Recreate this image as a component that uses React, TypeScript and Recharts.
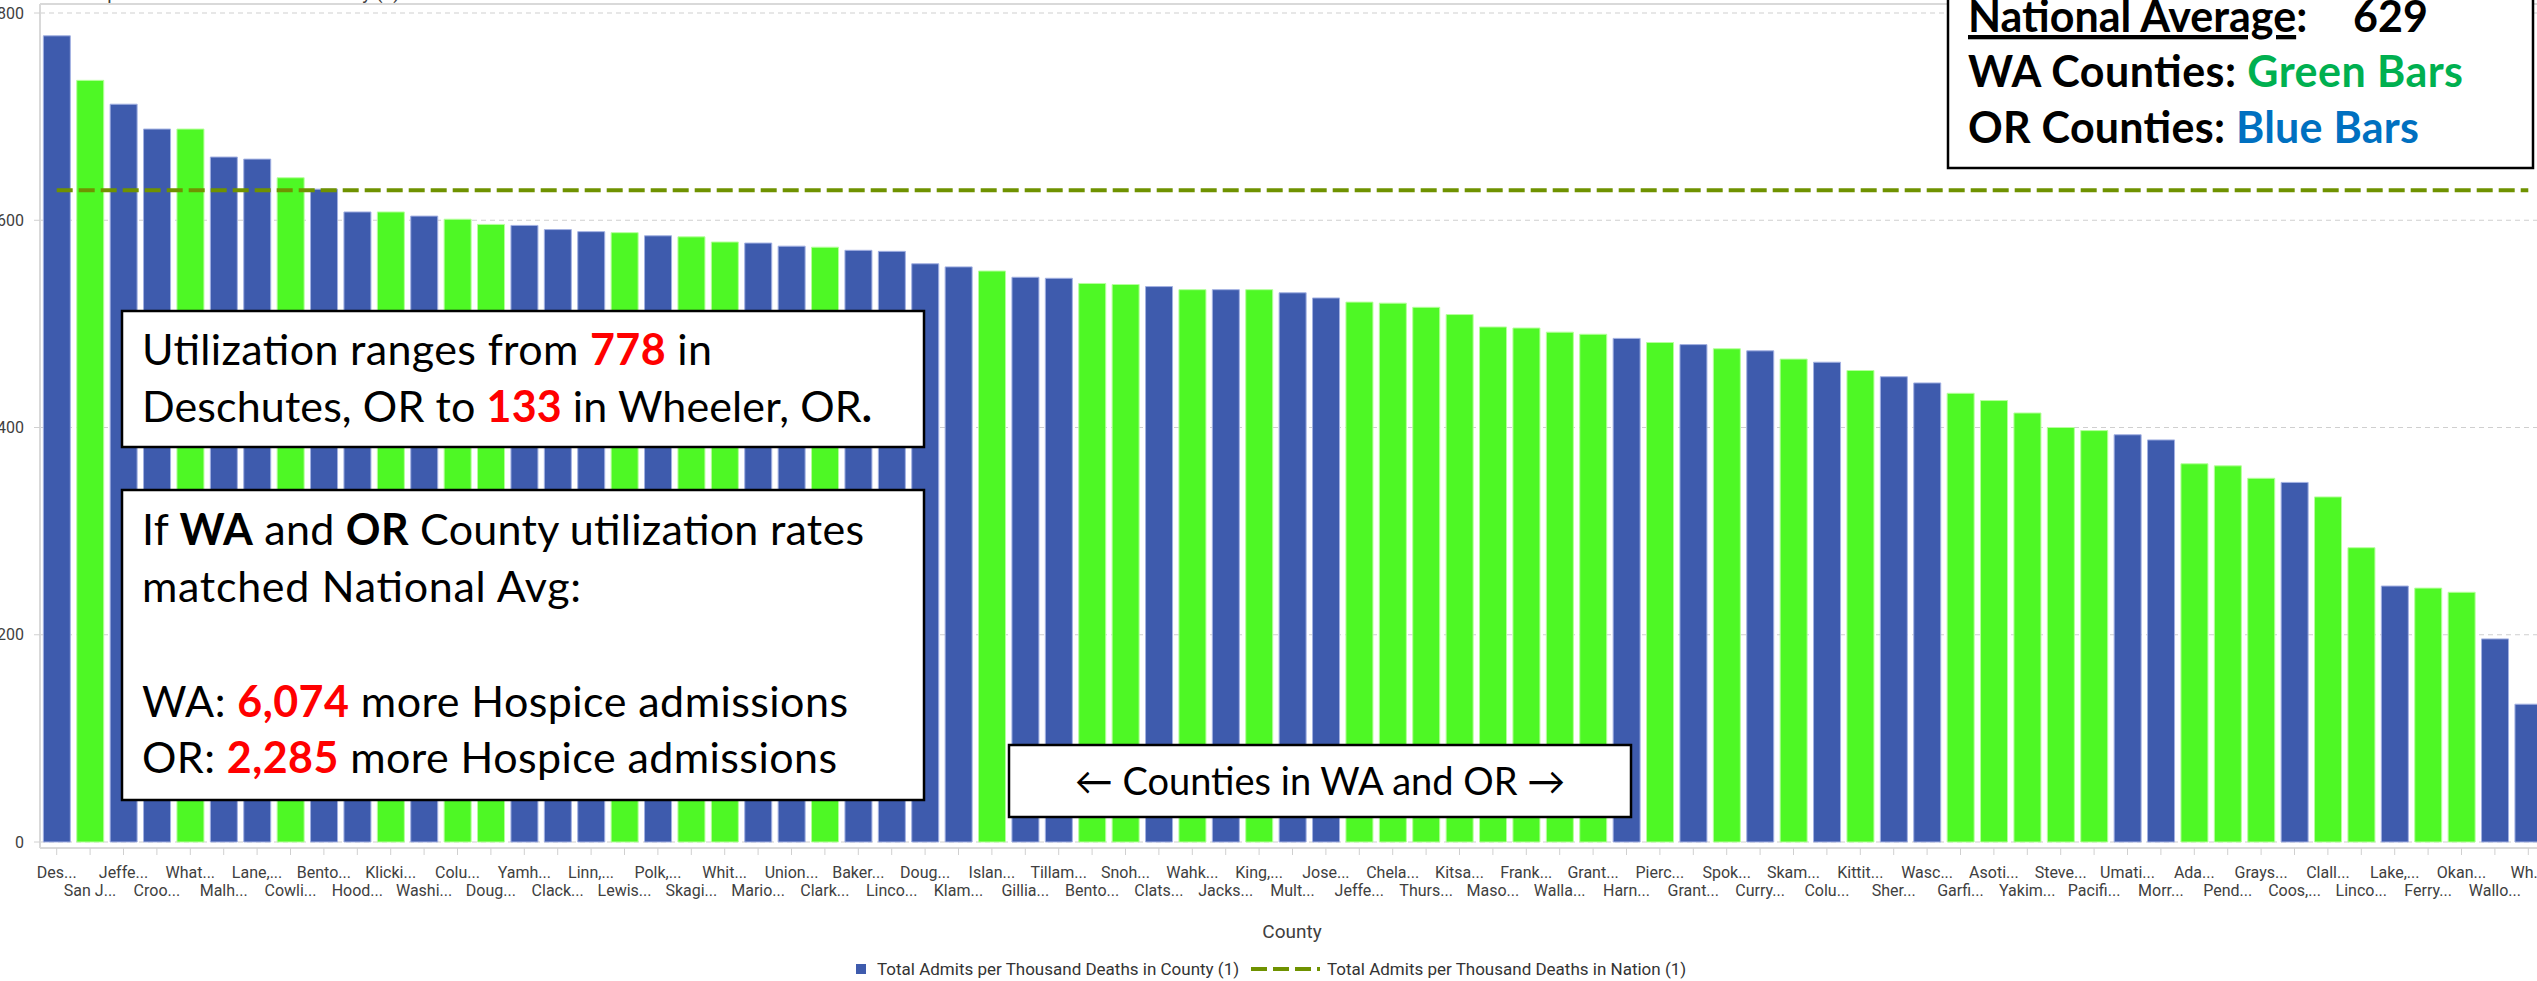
import { ComposedChart, Bar, Line, Cell, XAxis, YAxis, CartesianGrid } from "recharts";

// county order as sorted in the reference (highest to lowest)
const counties = [
  "Deschutes, OR", "San Juan, WA", "Jefferson, OR", "Crook, OR", "Whatcom, WA",
  "Malheur, OR", "Lane, OR", "Cowlitz, WA", "Benton, OR", "Hood River, OR",
  "Klickitat, WA", "Washington, OR", "Columbia, WA", "Douglas, WA", "Yamhill, OR",
  "Clackamas, OR", "Linn, OR", "Lewis, WA", "Polk, OR", "Skagit, WA",
  "Whitman, WA", "Marion, OR", "Union, OR", "Clark, WA", "Baker, OR",
  "Lincoln, OR", "Douglas, OR", "Klamath, OR", "Island, WA", "Gilliam, OR",
  "Tillamook, OR", "Benton, WA", "Snohomish, WA", "Clatsop, OR", "Wahkiakum, WA",
  "Jackson, OR", "King, WA", "Multnomah, OR", "Josephine, OR", "Jefferson, WA",
  "Chelan, WA", "Thurston, WA", "Kitsap, WA", "Mason, WA", "Franklin, WA",
  "Walla Walla, WA", "Grant, WA", "Harney, OR", "Pierce, WA", "Grant, OR",
  "Spokane, WA", "Curry, OR", "Skamania, WA", "Columbia, OR", "Kittitas, WA",
  "Sherman, OR", "Wasco, OR", "Garfield, WA", "Asotin, WA", "Yakima, WA",
  "Stevens, WA", "Pacific, WA", "Umatilla, OR", "Morrow, OR", "Adams, WA",
  "Pend Oreille, WA", "Grays Harbor, WA", "Coos, OR", "Clallam, WA", "Lincoln, WA",
  "Lake, OR", "Ferry, WA", "Okanogan, WA", "Wallowa, OR", "Wheeler, OR",
];

// truncated tick text as it shows under the bars
const tickLabels = [
  "Des...", "San J...", "Jeffe...", "Croo...", "What...",
  "Malh...", "Lane,...", "Cowli...", "Bento...", "Hood...",
  "Klicki...", "Washi...", "Colu...", "Doug...", "Yamh...",
  "Clack...", "Linn,...", "Lewis...", "Polk,...", "Skagi...",
  "Whit...", "Mario...", "Union...", "Clark...", "Baker...",
  "Linco...", "Doug...", "Klam...", "Islan...", "Gillia...",
  "Tillam...", "Bento...", "Snoh...", "Clats...", "Wahk...",
  "Jacks...", "King,...", "Mult...", "Jose...", "Jeffe...",
  "Chela...", "Thurs...", "Kitsa...", "Maso...", "Frank...",
  "Walla...", "Grant...", "Harn...", "Pierc...", "Grant...",
  "Spok...", "Curry...", "Skam...", "Colu...", "Kittit...",
  "Sher...", "Wasc...", "Garfi...", "Asoti...", "Yakim...",
  "Steve...", "Pacifi...", "Umati...", "Morr...", "Ada...",
  "Pend...", "Grays...", "Coos,...", "Clall...", "Linco...",
  "Lake,...", "Ferry...", "Okan...", "Wallo...", "Wh...",
];

const states = [
  "OR", "WA", "OR", "OR", "WA",
  "OR", "OR", "WA", "OR", "OR",
  "WA", "OR", "WA", "WA", "OR",
  "OR", "OR", "WA", "OR", "WA",
  "WA", "OR", "OR", "WA", "OR",
  "OR", "OR", "OR", "WA", "OR",
  "OR", "WA", "WA", "OR", "WA",
  "OR", "WA", "OR", "OR", "WA",
  "WA", "WA", "WA", "WA", "WA",
  "WA", "WA", "OR", "WA", "OR",
  "WA", "OR", "WA", "OR", "WA",
  "OR", "OR", "WA", "WA", "WA",
  "WA", "WA", "OR", "OR", "WA",
  "WA", "WA", "OR", "WA", "WA",
  "OR", "WA", "WA", "OR", "OR",
];

// Total admits per thousand deaths in county (1)
const countyAdmits = [
  778, 735, 712, 688, 688,
  661, 659, 641, 630, 608,
  608, 604, 601, 596, 595,
  591, 589, 588, 585, 584,
  579, 578, 575, 574, 571,
  570, 558, 555, 551, 545,
  544, 539, 538, 536, 533,
  533, 533, 530, 525, 521,
  520, 516, 509, 497, 496,
  492, 490, 486, 482, 480,
  476, 474, 466, 463, 455,
  449, 443, 433, 426, 414,
  400, 397, 393, 388, 365,
  363, 351, 347, 333, 284,
  247, 245, 241, 196, 133,
];

const nationalAverage = 629;
const yTicks = [0, 200, 400, 600, 800];

const BAR_FILL: Record<string, string> = { OR: "#3e5bad", WA: "#4ef825" };
const BAR_EDGE: Record<string, string> = { OR: "#a3b1e2", WA: "#b6ff9c" };
const AVG_COLOR = "#6f9200";
const AXIS_FONT = "Roboto, 'Noto Sans', sans-serif";
const BOX_FONT = "Lato, 'Open Sans', sans-serif";

const data = counties.map((name, i) => ({
  name,
  county: countyAdmits[i],
  nation: nationalAverage,
}));

const XTick = (props: any) => {
  const { x, y, index } = props;
  const dy = index % 2 === 0 ? 21 : 39;
  return (
    <text x={x} y={y + dy} textAnchor="middle" fontSize={16} fill="#404040" fontFamily={AXIS_FONT}>
      {tickLabels[index]}
    </text>
  );
};

const red = "#ff0000";

export default function App() {
  return (
    <div
      style={{
        position: "fixed",
        left: 0,
        top: 0,
        width: 2537,
        height: 981,
        overflow: "hidden",
        background: "#fff",
      }}
    >
      <ComposedChart
        width={2560}
        height={981}
        data={data}
        margin={{ top: 4, right: 15, bottom: 73, left: 0 }}
        barCategoryGap="10%"
      >
        <CartesianGrid vertical={false} stroke="#cfcfcf" strokeDasharray="5 4" />
        <XAxis
          dataKey="name"
          interval={0}
          height={60}
          tick={<XTick />}
          tickSize={7}
          tickMargin={2}
          axisLine={{ stroke: "#d9d9d9", strokeWidth: 2 }}
          tickLine={{ stroke: "#d0d0d0" }}
        />
        <YAxis
          width={40}
          domain={[0, 800]}
          ticks={yTicks}
          padding={{ top: 9, bottom: 6 }}
          tick={{ fontSize: 16, fill: "#404040", fontFamily: AXIS_FONT }}
          tickSize={6}
          tickMargin={10}
          axisLine={{ stroke: "#d9d9d9", strokeWidth: 2 }}
          tickLine={{ stroke: "#d0d0d0" }}
        />
        <Bar dataKey="county" isAnimationActive={false}>
          {data.map((_, i) => (
            <Cell key={`bar-${i}`} fill={BAR_FILL[states[i]]} stroke={BAR_EDGE[states[i]]} strokeWidth={1} />
          ))}
        </Bar>
        <Line
          dataKey="nation"
          type="linear"
          stroke={AVG_COLOR}
          strokeWidth={4}
          strokeDasharray="16 6"
          dot={false}
          activeDot={false}
          isAnimationActive={false}
        />
      </ComposedChart>

      <svg
        width={2537}
        height={981}
        style={{ position: "absolute", left: 0, top: 0, pointerEvents: "none" }}
      >
        {/* title, mostly cropped off the top */}
        <text x={-5} y={-1} fontSize={19} fill="#404040" fontFamily={AXIS_FONT}>
          Total Admits per Thousand Deaths in County (1)
        </text>
        <line x1={40} x2={2537} y1={4} y2={4} stroke="#d9d9d9" strokeWidth={2} />

        {/* range note */}
        <rect x={122} y={311} width={802} height={136} fill="#fff" stroke="#000" strokeWidth={2.5} />
        <g fontFamily={BOX_FONT} fontSize={43} fill="#000">
          <text x={142} y={365} textLength={570} lengthAdjust="spacing">
            {"Utilization ranges from "}
            <tspan fill={red} fontWeight={700}>778</tspan>
            {" in"}
          </text>
          <text x={142} y={422} textLength={730} lengthAdjust="spacing">
            {"Deschutes, OR to "}
            <tspan fill={red} fontWeight={700}>133</tspan>
            {" in Wheeler, OR"}
            <tspan fontWeight={700}>.</tspan>
          </text>
        </g>

        {/* what-if note */}
        <rect x={122} y={490} width={802} height={310} fill="#fff" stroke="#000" strokeWidth={2.5} />
        <g fontFamily={BOX_FONT} fontSize={43} fill="#000">
          <text x={142} y={545} textLength={722} lengthAdjust="spacing">
            {"If "}
            <tspan fontWeight={700}>WA</tspan>
            {" and "}
            <tspan fontWeight={700}>OR</tspan>
            {" County utilization rates"}
          </text>
          <text x={142} y={602} textLength={439} lengthAdjust="spacing">
            matched National Avg:
          </text>
          <text x={142} y={717} textLength={706} lengthAdjust="spacing">
            {"WA: "}
            <tspan fill={red} fontWeight={700}>6,074</tspan>
            {" more Hospice admissions"}
          </text>
          <text x={142} y={773} textLength={695} lengthAdjust="spacing">
            {"OR: "}
            <tspan fill={red} fontWeight={700}>2,285</tspan>
            {" more Hospice admissions"}
          </text>
        </g>

        {/* axis note */}
        <rect x={1009} y={745} width={622} height={72} fill="#fff" stroke="#000" strokeWidth={2.5} />
        <text x={1320} y={795} textAnchor="middle" fontFamily={BOX_FONT} fontSize={38} fill="#000">
          ← Counties in WA and OR →
        </text>

        {/* key box, top right */}
        <rect x={1948} y={-6} width={585} height={174} fill="#fff" stroke="#000" strokeWidth={2.5} />
        <g fontFamily={BOX_FONT} fontSize={43} fontWeight={700} fill="#000">
          <text x={1968} y={32}>
            <tspan style={{ textDecoration: "underline" }}>National Average</tspan>
            {":"}
            <tspan x={2353}>{nationalAverage}</tspan>
          </text>
          <text x={1968} y={87} textLength={495} lengthAdjust="spacing">
            {"WA Counties: "}
            <tspan fill="#00b050">Green Bars</tspan>
          </text>
          <text x={1968} y={143} textLength={451} lengthAdjust="spacing">
            {"OR Counties: "}
            <tspan fill="#0070c0">Blue Bars</tspan>
          </text>
        </g>

        {/* axis title */}
        <text x={1292} y={938} textAnchor="middle" fontSize={19} fill="#404040" fontFamily={AXIS_FONT}>
          County
        </text>

        {/* legend */}
        <rect x={856} y={964} width={10} height={10} fill={BAR_FILL.OR} />
        <text x={877} y={975} fontSize={17} fill="#333" fontFamily={AXIS_FONT}>
          Total Admits per Thousand Deaths in County (1)
        </text>
        <line x1={1251} x2={1320} y1={969} y2={969} stroke={AVG_COLOR} strokeWidth={4} strokeDasharray="16 6" />
        <text x={1327} y={975} fontSize={17} fill="#333" fontFamily={AXIS_FONT}>
          Total Admits per Thousand Deaths in Nation (1)
        </text>
      </svg>
    </div>
  );
}
